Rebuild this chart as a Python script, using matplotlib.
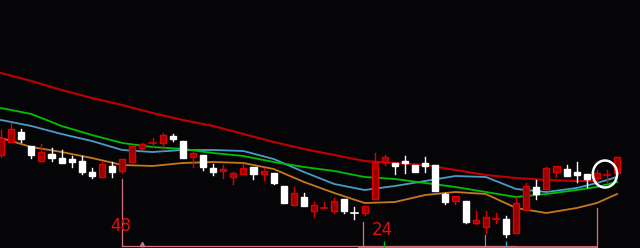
import matplotlib
matplotlib.use('Agg')
from matplotlib import pyplot as plt
from matplotlib.patches import Rectangle, Ellipse
import numpy as np

# candles, price in chart units (higher = up)
opens  = [93, 106, 116, 102, 87, 94, 90, 89, 87, 76, 71, 82, 77, 86, 100, 104, 105, 112, 107, 91,
          93, 80, 77, 71, 74, 81, 74, 75, 62, 43, 51, 37, 39, 37, 49, 35, 35, 49, 86, 85,
          87, 83, 85, 83, 54, 47, 47, 25, 21, 29, 29, 15, 38, 61, 59, 76, 79, 76, 74, 70,
          72, 75]
highs  = [118, 125, 119, 102, 104, 100, 98, 92, 92, 80, 86, 86, 89, 102, 105, 110, 115, 114, 107, 96,
          93, 84, 83, 76, 84, 81, 80, 75, 62, 61, 55, 46, 46, 50, 49, 41, 42, 95, 93, 85,
          92, 83, 91, 83, 55, 52, 47, 37, 37, 35, 32, 51, 65, 68, 81, 82, 83, 86, 74, 78,
          78, 91]
lows   = [91, 106, 106, 90, 87, 87, 85, 81, 74, 70, 71, 71, 75, 86, 99, 101, 98, 107, 90, 81,
          78, 73, 70, 64, 74, 69, 68, 64, 45, 43, 42, 31, 39, 35, 35, 29, 33, 49, 83, 74,
          75, 76, 76, 57, 44, 44, 25, 24, 15, 25, 11, 15, 38, 49, 59, 71, 72, 66, 61, 66,
          65, 75]
closes = [110, 119, 109, 93, 96, 90, 85, 86, 76, 72, 84, 76, 89, 102, 104, 105, 113, 109, 90, 95,
          81, 76, 79, 75, 80, 74, 77, 65, 45, 55, 42, 43, 40, 47, 37, 35, 42, 86, 91, 82,
          85, 76, 82, 57, 46, 52, 26, 28, 31, 29, 14, 45, 62, 54, 80, 82, 72, 73, 69, 75,
          73, 91]

ma_idx = [0, 3, 6, 9, 12, 15, 18, 21, 24, 27, 30, 33, 36, 39, 42, 45, 48, 51, 54, 57, 59, 61]
ma_red    = [175, 167, 158, 150, 143, 135, 128, 122, 114, 106, 99, 93, 87, 85, 83, 78, 73, 70, 68, 67, 67]
ma_blue   = [128, 122, 114, 107, 98, 96, 98, 98, 97, 89, 76, 64, 58, 62, 67, 72, 71, 59, 56, 60, 65, 71]
ma_green  = [140, 134, 122, 113, 105, 101, 99, 95, 92, 86, 81, 77, 71, 69, 65, 61, 56, 51, 54, 58, 61, 66]
ma_orange = [110, 101, 96, 90, 83, 82, 85, 86, 85, 79, 66, 55, 45, 46, 53, 56, 54, 40, 35, 40, 45, 54]

# bracket annotations
labels = ['48', '24']
label_x = [11.9, 37.8]
label_y = [22, 18]

bg = '#050508'
red_edge = '#e00000'
red_face = '#9a0000'
pink = '#d07484'

fig = plt.figure(figsize=(6.4, 2.48), dpi=100)
fig.patch.set_facecolor(bg)
ax = fig.add_axes([0, 0, 1, 1])
ax.set_facecolor(bg)
ax.set_xlim(-0.1, 63.27)
ax.set_ylim(0, 248)
ax.axis('off')

w = 0.6
for i in range(len(opens)):
    o, h, l, c = opens[i], highs[i], lows[i], closes[i]
    up = c >= o and not (i == 35)
    col = red_edge if up else 'white'
    face = red_face if up else 'white'
    lo_b, hi_b = min(o, c), max(o, c)
    ax.plot([i, i], [hi_b, h], color=col, lw=1.0, zorder=3)
    ax.plot([i, i], [l, lo_b], color=col, lw=1.0, zorder=3)
    if hi_b - lo_b < 1.5:
        ax.plot([i - w / 2, i + w / 2], [c, c], color=col, lw=1.2, zorder=3)
    else:
        ax.add_patch(Rectangle((i - w / 2, lo_b), w, hi_b - lo_b, facecolor=face,
                               edgecolor=col, lw=1.0, zorder=3))

ax.plot(ma_idx[:len(ma_red)], ma_red, color='#c00000', lw=1.5, zorder=2)
ax.plot(ma_idx, ma_blue, color='#4a9cc4', lw=1.3, zorder=2)
ax.plot(ma_idx, ma_green, color='#00c000', lw=1.3, zorder=2)
ax.plot(ma_idx, ma_orange, color='#c8781c', lw=1.3, zorder=2)

# brackets at the bottom
ax.plot([12, 12], [69, 2.5], color=pink, lw=0.9)
ax.plot([12, 51], [2.5, 2.5], color=pink, lw=0.9)
ax.plot([35.8, 35.8], [26, 1.3], color=pink, lw=0.9)
ax.plot([35.4, 59], [1.3, 1.3], color=pink, lw=1.3)
ax.plot([47.9, 47.9], [13, 1.3], color=pink, lw=0.9)
ax.plot([59, 59], [40, 1.3], color=pink, lw=0.9)
ax.plot([14], [4], marker='^', ms=3, color=pink)
ax.plot([37.9], [4], marker='|', ms=4, color='#00c000')
ax.plot([50], [4], marker='|', ms=4, color='#4a9cc4')

for t, x, y in zip(labels, label_x, label_y):
    ax.text(x, y, t, color='#e01010', fontsize=12, ha='center', va='center')

ax.add_patch(Ellipse((59.8, 74), 2.4, 27, fill=False, edgecolor='white', lw=1.8, zorder=4))

fig.savefig('out.png', dpi=100, facecolor=bg)
